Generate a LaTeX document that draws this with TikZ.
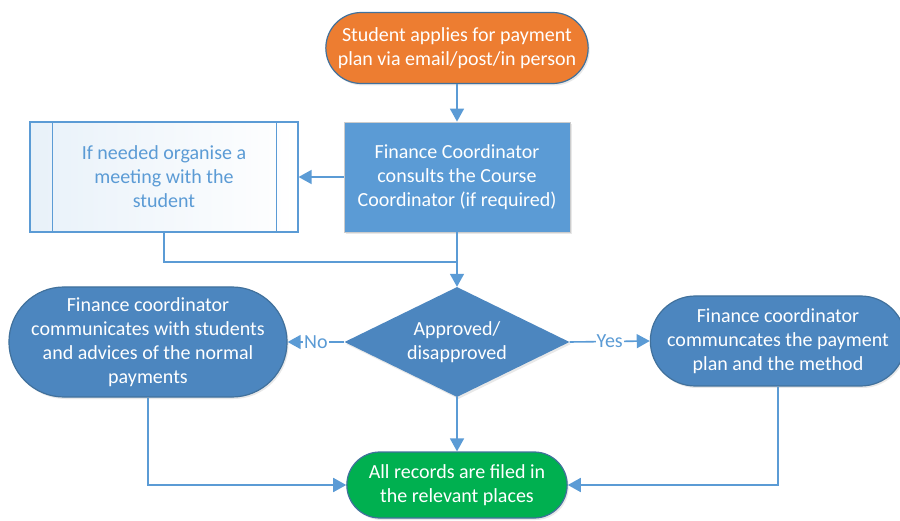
\documentclass[tikz,border=0pt]{standalone}
\usepackage{fontspec}
\setmainfont{Carlito}
\usetikzlibrary{arrows.meta,shapes.geometric,shapes.misc,shadows}

\definecolor{applyorange}{HTML}{ED7D31}
\definecolor{boxblue}{HTML}{5B9BD5}
\definecolor{nodeblue}{HTML}{4C86BF}
\definecolor{edgeblue}{HTML}{41719C}
\definecolor{filedgreen}{HTML}{00B050}

\tikzset{
	every node/.style={font=\fontsize{20}{24}\selectfont, align=center},
	soft/.style={drop shadow={opacity=0.18, shadow xshift=1.5pt, shadow yshift=-2pt}},
	terminal/.style={rounded rectangle, draw=edgeblue, line width=1.2pt, text=white, soft},
	process/.style={rectangle, draw=black!20, line width=0.8pt, fill=boxblue, text=white, soft},
	predef/.style={rectangle, draw=boxblue, line width=1.2pt, left color=boxblue!14, right color=white, text=boxblue},
	decision/.style={diamond, shape aspect=2.05, fill=nodeblue, text=white, inner sep=0pt, soft},
	flow/.style={draw=boxblue, line width=1.6pt, -{Triangle[length=13pt,width=14pt]}},
	link/.style={draw=boxblue, line width=1.6pt},
	answer/.style={fill=white, text=boxblue, inner sep=1pt}
}

\begin{document}
\begin{tikzpicture}[x=1pt,y=-1pt]
	\useasboundingbox (0,0) rectangle (900,521);

	\node[terminal, fill=applyorange, minimum width=269pt, minimum height=71pt] (apply) at (457,48) {Student applies for payment\\plan via email/post/in person};
	\node[process, minimum width=226pt, minimum height=110pt] (consult) at (457,177) {Finance Coordinator\\consults the Course\\Coordinator (if required)};
	\node[predef, minimum width=268pt, minimum height=110pt] (meeting) at (164,177) {If needed organise a\\meeting with the\\student};
	\draw[boxblue, line width=1.2pt] ([xshift=23pt]meeting.north west) -- ([xshift=23pt]meeting.south west);
	\draw[boxblue, line width=1.2pt] ([xshift=-22pt]meeting.north east) -- ([xshift=-22pt]meeting.south east);

	\node[decision, minimum width=225pt, minimum height=110pt] (approve) at (457,342) {Approved/\\disapproved};
	\node[terminal, fill=nodeblue, inner xsep=-0.5pt, minimum width=272pt, minimum height=110pt] (normal) at (148,342) {Finance coordinator\\communicates with students\\and advices of the normal\\payments};
	\node[terminal, fill=nodeblue, minimum width=262pt, minimum height=90pt] (method) at (778,341) {Finance coordinator\\communcates the payment\\plan and the method};
	\node[terminal, fill=filedgreen, minimum width=227pt, minimum height=66pt] (filed) at (457,485) {All records are filed in\\the relevant places};

	\coordinate (merge) at (457,262);

	\draw[flow] (apply) -- (consult);
	\draw[flow] (consult) -- (meeting);
	\draw[link] (meeting.south) |- (merge);
	\draw[flow] (consult) -- (approve);
	\draw[flow] (approve.west) -- node[answer] {No} (normal.east);
	\draw[flow] (approve.east) -- node[answer] {Yes} (method.west);
	\draw[flow] (approve) -- (filed);
	\draw[flow] (normal.south) |- (filed.west);
	\draw[flow] (method.south) |- (filed.east);
\end{tikzpicture}
\end{document}
